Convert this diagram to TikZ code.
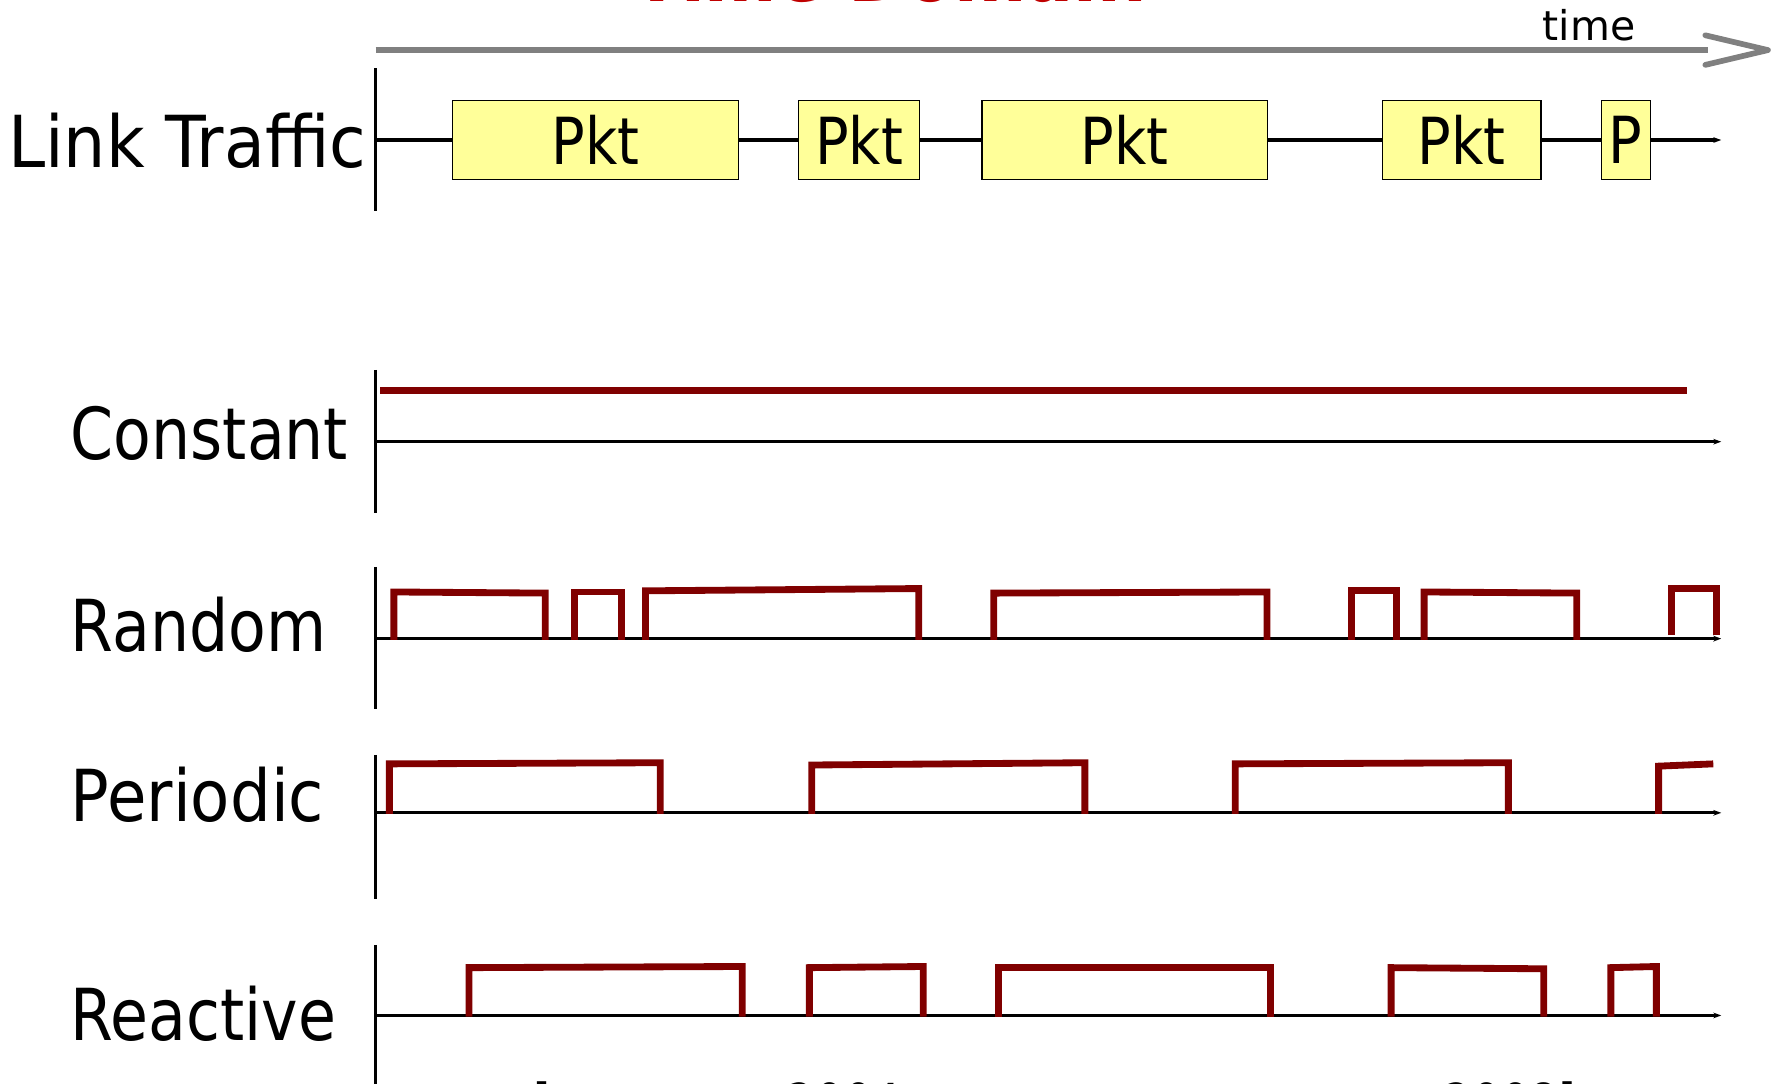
\documentclass[tikz,border=0pt]{standalone}
\usepackage{fontspec}
\setmainfont{DejaVu Sans}
\newfontfamily\narrowsans{DejaVu Sans}[FakeStretch=0.86]
\newfontfamily\midsans{DejaVu Sans}[FakeStretch=0.895]
\newfontfamily\widesans{DejaVu Sans}[FakeStretch=0.93]
\usetikzlibrary{arrows.meta}
\definecolor{pktyellow}{RGB}{255,255,153}
\definecolor{pulsered}{RGB}{128,0,0}
\definecolor{timegray}{RGB}{128,128,128}
\definecolor{titlered}{RGB}{192,0,0}
\begin{document}
\begin{tikzpicture}[x=1pt,y=-1pt,
  axisline/.style={black,line width=2.8pt},
  timeaxis/.style={axisline,-{Stealth[length=7pt,width=5pt]}},
  pulse/.style={pulsered,line width=6pt,line join=miter},
  rowlabel/.style={anchor=base west,inner sep=0pt,font=\narrowsans\fontsize{63}{63}\selectfont},
  pktbox/.style={draw=black,line width=1.1pt,fill=pktyellow,minimum height=69pt,
                 inner sep=0pt,anchor=west,font=\narrowsans\fontsize{57}{57}\selectfont},
  citetext/.style={anchor=base west,inner sep=0pt,font=\narrowsans\fontsize{46}{46}\selectfont},
]
\useasboundingbox (0,0) rectangle (1568,952);

% heading
\node[anchor=base,inner sep=0pt,text=titlered,
      font=\narrowsans\bfseries\fontsize{71}{71}\selectfont] (title) at (782,1) {Time Domain};

% time arrow
\coordinate (time-start) at (330,44);
\coordinate (time-stop) at (1500,44);
\draw[timegray,line width=5pt] (time-start) -- (time-stop);
\draw[timegray,line width=5pt,line cap=round,line join=round]
  (1498,31) -- (1553,44) -- (1498,57);
\node[anchor=base west,inner sep=0pt,font=\fontsize{36}{36}\selectfont] (timelabel) at (1355,36) {time};

% ---------- link traffic ----------
\node[anchor=base west,inner sep=0pt,font=\widesans\fontsize{63}{63}\selectfont]
  (lbl-link) at (7,147) {Link Traffic};
\draw[axisline] (330,60) -- (330,185);
\node[pktbox,minimum width=251pt] (p1) at (397,123) {Pkt};
\node[pktbox,minimum width=106pt] (p2) at (701,123) {Pkt};
\node[pktbox,minimum width=251pt] (p3) at (862,123) {Pkt};
\node[pktbox,minimum width=139pt] (p4) at (1214,123) {Pkt};
\node[pktbox,minimum width=43pt]  (p5) at (1406,123) {P};
\coordinate (link-start) at (330,123);
\coordinate (link-end) at (1512,123);
\draw[axisline] (link-start) -- (p1.west) (p1.east) -- (p2.west)
  (p2.east) -- (p3.west) (p3.east) -- (p4.west) (p4.east) -- (p5.west);
\draw[timeaxis] (p5.east) -- (link-end);

% ---------- constant ----------
\node[rowlabel] (lbl-const) at (62,404) {Constant};
\draw[axisline] (330,325) -- (330,451);
\coordinate (const-start) at (330,388);
\coordinate (const-end) at (1512,388);
\draw[timeaxis] (const-start) -- (const-end);
\draw[pulsered,line width=6.5pt] (334,343) -- (1482,343);

% ---------- random ----------
\node[rowlabel] (lbl-rand) at (62,572) {Random};
\draw[axisline] (330,498) -- (330,623);
\coordinate (rand-start) at (330,561);
\coordinate (rand-end) at (1512,561);
\draw[timeaxis] (rand-start) -- (rand-end);
\foreach \xa/\ta/\xb/\tb in {346/520/479/521, 505/520/546/520, 567/519/807/517,
    873/521/1113/520, 1187/519/1227/519, 1251/520/1385/521}
  \draw[pulse] (\xa,562) -- (\xa,\ta) -- (\xb,\tb) -- (\xb,562);
\draw[pulse] (1468,558) -- (1468,517) -- (1508,517) -- (1508,558);

% ---------- periodic ----------
\node[rowlabel,font=\midsans\fontsize{63}{63}\selectfont] (lbl-per) at (62,722) {Periodic};
\draw[axisline] (330,663) -- (330,790);
\coordinate (per-start) at (330,714);
\coordinate (per-end) at (1512,714);
\draw[timeaxis] (per-start) -- (per-end);
\foreach \xa/\ta/\xb/\tb in {342/671/580/670, 713/672/953/670, 1085/671/1325/670}
  \draw[pulse] (\xa,715) -- (\xa,\ta) -- (\xb,\tb) -- (\xb,715);
\draw[pulse] (1457,715) -- (1457,673) -- (1505,671);

% ---------- reactive ----------
\node[rowlabel] (lbl-react) at (62,914) {Reactive};
\draw[axisline] (330,830) -- (330,960);
\coordinate (react-start) at (330,892);
\coordinate (react-end) at (1512,892);
\draw[timeaxis] (react-start) -- (react-end);
\foreach \xa/\ta/\xb/\tb in {412/850/652/849, 711/850/811/849, 877/850/1116/850,
    1222/850/1356/851, 1415/850/1455/849}
  \draw[pulse] (\xa,893) -- (\xa,\ta) -- (\xb,\tb) -- (\xb,893);

% reference line along the lower edge
\node[citetext] (cite-open) at (468,985) {[};
\node[citetext] (cite-a) at (691,985) {2004};
\node[citetext] (cite-b) at (1268,985) {2008]};
\end{tikzpicture}
\end{document}
